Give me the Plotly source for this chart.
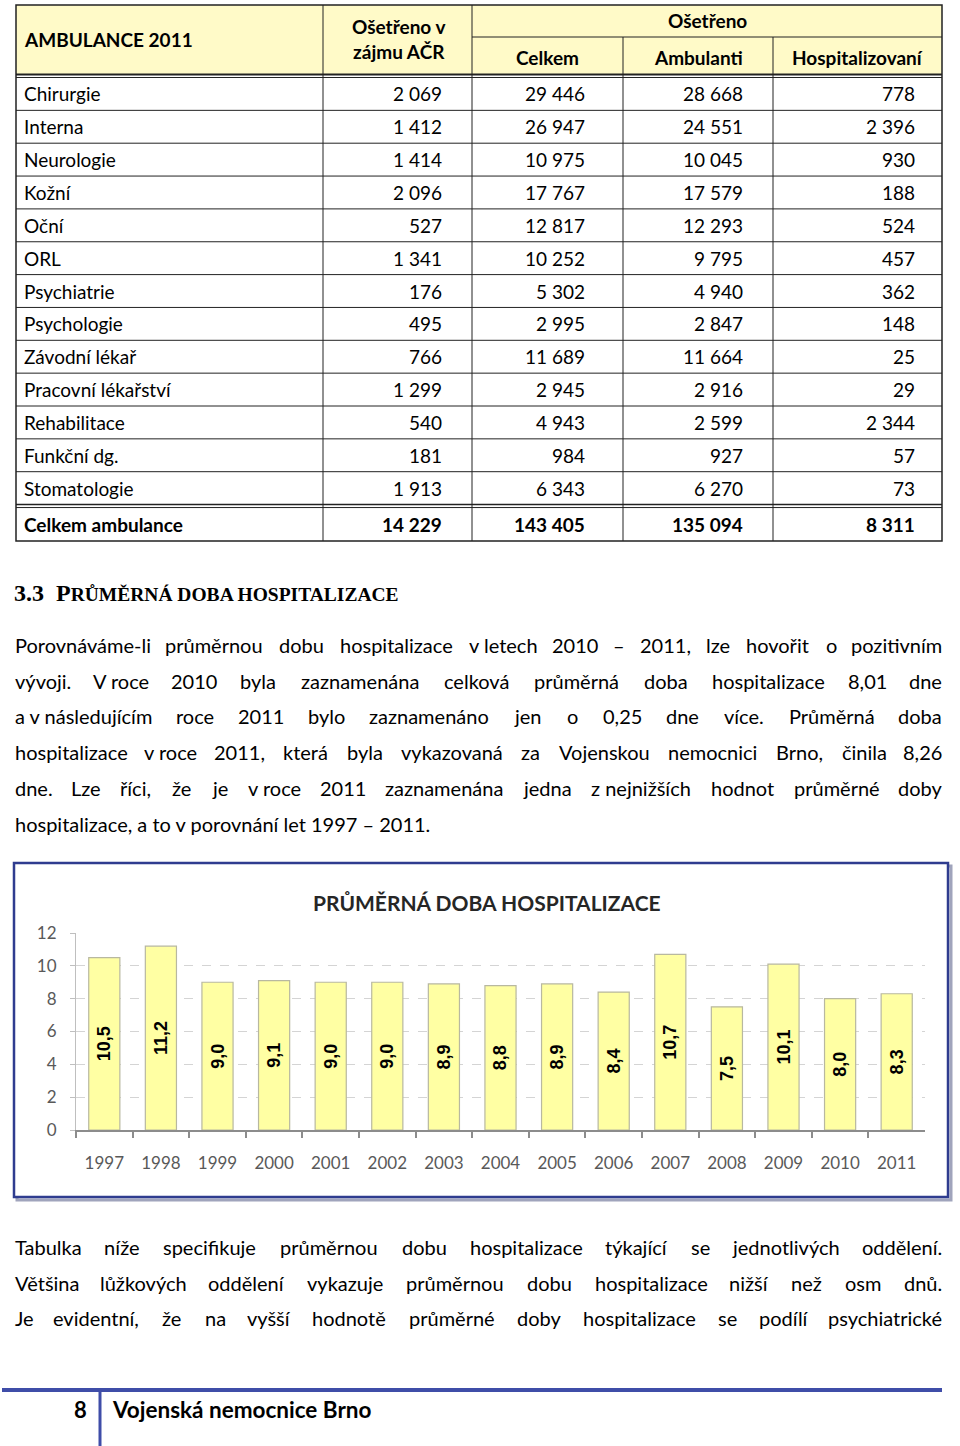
import unicodedata
import plotly.graph_objects as go

W, H = 960, 1446

# ---------------- data ----------------
table_title = "AMBULANCE 2011"
acr_header = "Ošetřeno v<br>zájmu AČR"
group_header = "Ošetřeno"
sub_headers = ["Celkem", "Ambulanti", "Hospitalizovaní"]
departments = ["Chirurgie", "Interna", "Neurologie", "Kožní", "Oční", "ORL", "Psychiatrie",
               "Psychologie", "Závodní lékař", "Pracovní lékařství", "Rehabilitace",
               "Funkční dg.", "Stomatologie"]
treated_acr = [2069, 1412, 1414, 2096, 527, 1341, 176, 495, 766, 1299, 540, 181, 1913]
treated_total = [29446, 26947, 10975, 17767, 12817, 10252, 5302, 2995, 11689, 2945, 4943, 984, 6343]
outpatients = [28668, 24551, 10045, 17579, 12293, 9795, 4940, 2847, 11664, 2916, 2599, 927, 6270]
hospitalized = [778, 2396, 930, 188, 524, 457, 362, 148, 25, 29, 2344, 57, 73]
total_label = "Celkem ambulance"
totals = [14229, 143405, 135094, 8311]

years = ["1997", "1998", "1999", "2000", "2001", "2002", "2003", "2004", "2005",
         "2006", "2007", "2008", "2009", "2010", "2011"]
avg_stay = [10.5, 11.2, 9.0, 9.1, 9.0, 9.0, 8.9, 8.8, 8.9, 8.4, 10.7, 7.5, 10.1, 8.0, 8.3]
y_ticks = [0, 2, 4, 6, 8, 10, 12]

heading_num = "3.3"
heading_first = "P"
heading_rest = "RŮMĚRNÁ DOBA HOSPITALIZACE"
chart_title = "PRŮMĚRNÁ DOBA HOSPITALIZACE"
NB = "\u00a0"
para1 = [
    ["Porovnáváme-li", "průměrnou", "dobu", "hospitalizace", "v" + NB + "letech", "2010", "–", "2011,",
     "lze", "hovořit", "o", "pozitivním"],
    ["vývoji.", "V" + NB + "roce", "2010", "byla", "zaznamenána", "celková", "průměrná", "doba",
     "hospitalizace", "8,01", "dne"],
    ["a" + NB + "v" + NB + "následujícím", "roce", "2011", "bylo", "zaznamenáno", "jen", "o", "0,25", "dne",
     "více.", "Průměrná", "doba"],
    ["hospitalizace", "v" + NB + "roce", "2011,", "která", "byla", "vykazovaná", "za", "Vojenskou",
     "nemocnici", "Brno,", "činila", "8,26"],
    ["dne.", "Lze", "říci,", "že", "je", "v" + NB + "roce", "2011", "zaznamenána", "jedna",
     "z" + NB + "nejnižších", "hodnot", "průměrné", "doby"],
]
para1_last = "hospitalizace, a to v porovnání let 1997 – 2011."
para2 = [
    ["Tabulka", "níže", "specifikuje", "průměrnou", "dobu", "hospitalizace", "týkající", "se",
     "jednotlivých", "oddělení."],
    ["Většina", "lůžkových", "oddělení", "vykazuje", "průměrnou", "dobu", "hospitalizace", "nižší",
     "než", "osm", "dnů."],
    ["Je", "evidentní,", "že", "na", "vyšší", "hodnotě", "průměrné", "doby", "hospitalizace", "se",
     "podílí", "psychiatrické"],
]
footer_page = "8"
footer_text = "Vojenská nemocnice Brno"

# ---------------- helpers ----------------
def X(px):
    return px / W


def Y(py):
    return 1 - py / H


def fmt_int(v):
    return f"{v:,}".replace(",", NB)


def fmt_dec(v):
    return f"{v:.1f}".replace(".", ",")


annotations = []
shapes = []


def text(x, y, s, size=18, anchor="left", bold=False, family="Lato", color="#000000",
         yanchor="middle"):
    font = dict(family=family, size=size, color=color)
    if bold:
        font["weight"] = 700
    annotations.append(dict(x=X(x), y=Y(y), xref="paper", yref="paper", text=s, showarrow=False,
                            xanchor=anchor, yanchor=yanchor, font=font,
                            align=anchor if anchor != "center" else "center"))


def hline(x0, x1, y, width=1.0, color="#222222"):
    shapes.append(dict(type="line", xref="paper", yref="paper", x0=X(x0), x1=X(x1), y0=Y(y), y1=Y(y),
                       line=dict(color=color, width=width)))


def vline(x, y0, y1, width=1.0, color="#222222"):
    shapes.append(dict(type="line", xref="paper", yref="paper", x0=X(x), x1=X(x), y0=Y(y0), y1=Y(y1),
                       line=dict(color=color, width=width)))


def rect(x0, y0, x1, y1, fill=None, line_color=None, width=1.0, layer="above"):
    d = dict(type="rect", xref="paper", yref="paper", x0=X(x0), x1=X(x1), y0=Y(y1), y1=Y(y0),
             layer=layer, line=dict(width=width if line_color else 0, color=line_color or "rgba(0,0,0,0)"))
    if fill:
        d["fillcolor"] = fill
    shapes.append(d)


# approximate advance widths (em) for width estimation
CW = {' ': 0.226, NB: 0.226, 'a': 0.479, 'b': 0.525, 'c': 0.423, 'd': 0.525, 'e': 0.498, 'f': 0.305,
      'g': 0.471, 'h': 0.525, 'i': 0.229, 'j': 0.239, 'k': 0.455, 'l': 0.229, 'm': 0.799, 'n': 0.525,
      'o': 0.527, 'p': 0.525, 'q': 0.525, 'r': 0.349, 's': 0.391, 't': 0.335, 'u': 0.525, 'v': 0.452,
      'w': 0.715, 'x': 0.433, 'y': 0.453, 'z': 0.395, ',': 0.25, '.': 0.252, '-': 0.306, '–': 0.5,
      'V': 0.579, 'P': 0.517, 'T': 0.487, 'J': 0.319, 'L': 0.42, 'B': 0.544, 'Z': 0.49}


def est_width(s, size, k=1.06):
    tot = 0.0
    for c in s:
        base = unicodedata.normalize("NFD", c)[0]
        if base.isdigit():
            tot += 0.507
        else:
            tot += CW.get(base, 0.55)
    return tot * size * k


def justify(tokens, y, x0=13, x1=944, size=20):
    ws = [est_width(t, size) for t in tokens]
    gap = (x1 - x0 - sum(ws)) / (len(tokens) - 1)
    pos = x0
    for i, (t, w) in enumerate(zip(tokens, ws)):
        if i == 0:
            text(x0, y, t, size=size, anchor="left")
        elif i == len(tokens) - 1:
            text(x1, y, t, size=size, anchor="right")
        else:
            text(pos + w / 2, y, t, size=size, anchor="center")
        pos += w + gap


# ---------------- table ----------------
col_edges = [16, 323, 472, 623, 773, 942]
t_top, t_mid, t_hbot, t_body = 5, 37, 74.5, 77.5
row_h = 32.85
body_bot = t_body + len(departments) * row_h
tot_top = body_bot + 3
t_bot = 541

rect(col_edges[0], t_top, col_edges[-1], t_hbot, fill="#FFFAC8", layer="below")
rect(col_edges[0], t_top, col_edges[-1], t_bot, line_color="#222222", width=1.5)
hline(col_edges[2], col_edges[-1], t_mid)
hline(col_edges[0], col_edges[-1], t_hbot, width=2)
hline(col_edges[0], col_edges[-1], t_body, width=1)
for i in range(1, len(departments)):
    hline(col_edges[0], col_edges[-1], t_body + i * row_h)
hline(col_edges[0], col_edges[-1], body_bot, width=1.5)
hline(col_edges[0], col_edges[-1], tot_top, width=1)
vline(col_edges[1], t_top, t_bot)
vline(col_edges[2], t_top, t_bot)
vline(col_edges[3], t_mid, t_bot)
vline(col_edges[4], t_mid, t_bot)

TS = 19
text(22, 39, table_title, size=TS, bold=True)
text(398, 39, acr_header, size=TS, anchor="center", bold=True)
text((col_edges[2] + col_edges[-1]) / 2, 21, group_header, size=TS, anchor="center", bold=True)
for j, h in enumerate(sub_headers):
    text((col_edges[2 + j] + col_edges[3 + j]) / 2, 58, h, size=TS, anchor="center", bold=True)

num_right = [444, 587, 745, 917]
for i, name in enumerate(departments):
    yc = t_body + (i + 0.5) * row_h
    text(22, yc, name, size=TS)
    for xr, col in zip(num_right, [treated_acr, treated_total, outpatients, hospitalized]):
        text(xr, yc, fmt_int(col[i]), size=TS, anchor="right")
ytot = (tot_top + t_bot) / 2
text(22, ytot, total_label, size=TS, bold=True)
for xr, v in zip(num_right, totals):
    text(xr, ytot, fmt_int(v), size=TS, anchor="right", bold=True)

# ---------------- heading + paragraphs ----------------
heading_html = (f"{heading_num}{NB}{NB}{heading_first}"
                f"<span style='font-size:19.5px'>{heading_rest}</span>")
text(12, 593, heading_html, size=24, bold=True, family="Liberation Serif")

P_SIZE = 20
p1_y = [645, 681, 716, 752, 788]
for toks, yy in zip(para1, p1_y):
    justify(toks, yy, size=P_SIZE)
text(13, 824, para1_last, size=P_SIZE)
p2_y = [1247, 1283, 1318]
for toks, yy in zip(para2, p2_y):
    justify(toks, yy, size=P_SIZE)

# ---------------- chart frame ----------------
rect(17, 866, 951, 1200, line_color="#A0A4BC", width=3, layer="below")
rect(14, 863, 948, 1197, fill="#FFFFFF", line_color="#2F3C8F", width=2.5, layer="below")
text(487, 902, chart_title, size=21, anchor="center", bold=True, color="#262626")

# ---------------- footer ----------------
hline(2, 942, 1390, width=4, color="#3F4DA8")
vline(100, 1390, 1446, width=3, color="#3F4DA8")
text(89, 1409, footer_page, size=22, anchor="right", bold=True)
text(110, 1409, footer_text, size=22.5, bold=True)

# ---------------- bar chart ----------------
fig = go.Figure()
fig.add_trace(go.Bar(
    x=years, y=avg_stay,
    text=[fmt_dec(v) for v in avg_stay],
    textposition="inside", insidetextanchor="middle", textangle=-90,
    textfont=dict(family="Liberation Sans", size=18, color="#000000", weight=700),
    marker=dict(color="#FFFFA3", line=dict(color="#B8B8A0", width=1.2)),
    width=0.55, cliponaxis=False, constraintext="none",
))

plot_x0, plot_x1 = 76, 925
plot_y0, plot_y1 = 933, 1130

fig.update_layout(
    width=W, height=H, autosize=False,
    margin=dict(l=0, r=0, t=0, b=0, pad=0, autoexpand=False),
    paper_bgcolor="#FFFFFF", plot_bgcolor="rgba(0,0,0,0)",
    showlegend=False,
    shapes=shapes, annotations=annotations,
    uniformtext=dict(minsize=18, mode="show"),
    xaxis=dict(domain=[X(plot_x0), X(plot_x1)], type="category", showgrid=False, automargin=False,
               showline=True, linecolor="#8C8C8C", linewidth=2,
               ticks="outside", tickson="boundaries", ticklen=6, tickcolor="#8C8C8C", tickwidth=1.5,
               tickfont=dict(family="Lato", size=17, color="#595959"), ticklabelstandoff=17),
    yaxis=dict(domain=[Y(plot_y1), Y(plot_y0)], range=[0, 12], tickvals=y_ticks, automargin=False,
               showgrid=True, gridcolor="#D4D4D4", griddash="dash", gridwidth=1,
               showline=True, linecolor="#BFBFBF", linewidth=1.2,
               ticks="outside", ticklen=5, tickcolor="#BFBFBF",
               zeroline=False,
               tickfont=dict(family="Lato", size=17, color="#595959"), ticklabelstandoff=10),
)

fig.write_html("out.html", config={"displayModeBar": False},
               post_script="document.body.style.margin='0';document.body.style.overflow='hidden';")
